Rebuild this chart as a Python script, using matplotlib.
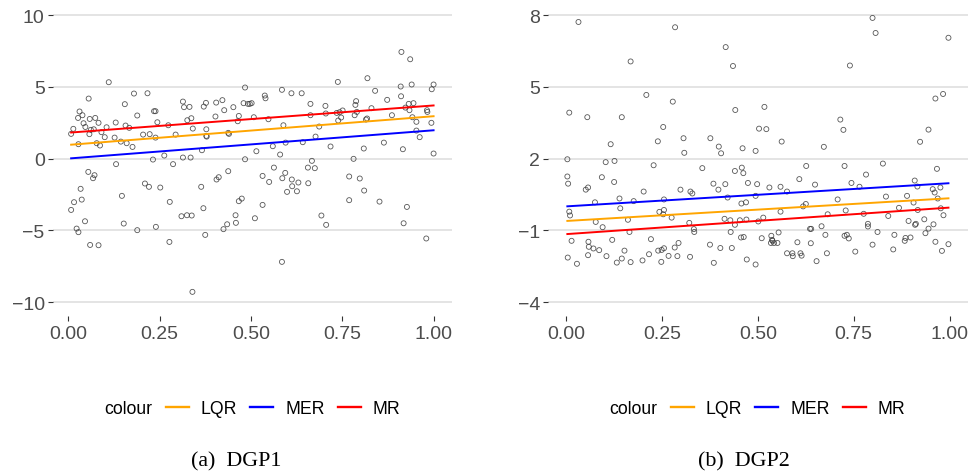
import numpy as np
import matplotlib
matplotlib.use("Agg")
import matplotlib.pyplot as plt
from matplotlib.lines import Line2D

# --- data ---
dgp1_x = [0.008, 0.014, 0.008, 0.016, 0.023, 0.028, 0.028, 0.031, 0.027, 0.039,
          0.034, 0.037, 0.042, 0.047, 0.046, 0.056, 0.055, 0.059, 0.058, 0.062,
          0.060, 0.068, 0.072, 0.074, 0.070, 0.078, 0.083, 0.087, 0.083, 0.091,
          0.100, 0.105, 0.111, 0.130, 0.127, 0.131, 0.144, 0.147, 0.152, 0.155,
          0.157, 0.160, 0.167, 0.176, 0.180, 0.189, 0.189, 0.205, 0.210, 0.217,
          0.221, 0.223, 0.232, 0.235, 0.239, 0.239, 0.240, 0.244, 0.252, 0.263,
          0.274, 0.278, 0.277, 0.287, 0.294, 0.310, 0.314, 0.314, 0.317, 0.325,
          0.326, 0.332, 0.335, 0.337, 0.338, 0.341, 0.340, 0.364, 0.366, 0.370,
          0.371, 0.375, 0.377, 0.378, 0.378, 0.379, 0.403, 0.405, 0.406, 0.412,
          0.422, 0.425, 0.427, 0.435, 0.438, 0.440, 0.438, 0.452, 0.458, 0.459,
          0.464, 0.467, 0.467, 0.475, 0.480, 0.484, 0.484, 0.492, 0.497, 0.502,
          0.508, 0.511, 0.515, 0.532, 0.532, 0.538, 0.540, 0.548, 0.550, 0.560,
          0.563, 0.580, 0.585, 0.585, 0.586, 0.589, 0.594, 0.595, 0.599, 0.611,
          0.612, 0.613, 0.626, 0.630, 0.639, 0.642, 0.656, 0.657, 0.663, 0.663,
          0.667, 0.675, 0.677, 0.687, 0.693, 0.704, 0.705, 0.706, 0.718, 0.735,
          0.739, 0.738, 0.743, 0.747, 0.751, 0.769, 0.769, 0.781, 0.784, 0.786,
          0.788, 0.790, 0.798, 0.809, 0.810, 0.815, 0.818, 0.819, 0.830, 0.840,
          0.852, 0.864, 0.873, 0.886, 0.910, 0.911, 0.912, 0.916, 0.918, 0.923,
          0.927, 0.932, 0.934, 0.936, 0.940, 0.942, 0.945, 0.953, 0.953, 0.962,
          0.980, 0.982, 0.983, 0.994, 0.995, 1.000, 1.000]
dgp1_y = [1.72, 2.07, -3.58, -3.04, -4.88, -5.13, 1.00, 3.28, 2.83, 3.02,
          -2.11, -2.86, 2.46, 2.20, -4.37, 4.18, -0.93, 2.76, 1.70, 2.00,
          -6.02, -1.37, -1.16, 2.83, 2.04, 1.07, 2.49, 0.91, -6.04, 1.84,
          1.49, 2.18, 5.32, 2.51, 1.46, -0.39, 1.18, -2.60, -4.53, 3.79,
          2.30, 1.07, 2.14, 0.81, 4.53, 3.00, -4.99, 1.67, -1.74, 4.55,
          -1.97, 1.70, -0.07, 3.30, 3.30, 1.46, -4.76, 2.53, -2.02, 0.21,
          2.32, -3.02, -5.81, -0.39, 1.67, -4.02, 3.97, 0.07, 3.58, -3.95,
          2.67, 3.60, 0.07, 2.81, -3.97, 2.09, -9.29, -1.97, 0.58, -3.46,
          3.62, -5.32, 3.88, 2.04, 1.58, 1.53, 2.93, 3.90, -1.46, -1.30,
          4.07, -4.92, 3.37, -4.58, 1.79, 1.72, -0.88, 3.58, -3.95, -4.48,
          2.60, 2.97, -2.97, -2.79, 3.86, 4.95, -0.05, 3.81, 3.81, 3.86,
          2.88, -4.16, 0.51, -1.21, -3.23, 4.39, 4.20, 2.74, -1.63, 0.86,
          -0.63, 0.28, 4.79, -7.20, -1.37, 2.32, -1.00, 1.11, -2.32, 4.55,
          -1.46, -1.93, -2.28, -1.67, 4.55, 1.14, -0.63, -1.72, 3.81, 3.02,
          -0.16, -0.67, 1.53, 2.23, -3.97, 3.67, 3.14, -4.62, 0.84, 3.18,
          2.65, 5.34, 3.23, 2.86, 3.35, -1.25, -2.90, -0.02, 3.02, 3.74,
          4.00, 3.25, -1.39, 0.70, -2.23, 2.72, 2.79, 5.60, 3.51, 4.72,
          -3.00, 1.11, 4.09, 3.02, 5.02, 4.34, 7.43, 0.65, -4.51, 3.55,
          -3.37, 3.81, 3.37, 6.92, 5.16, 2.88, 3.86, 2.56, 1.95, 1.49,
          -5.57, 3.37, 3.25, 2.49, 4.83, 5.16, 0.35]

dgp2_x = [0.003, 0.003, 0.005, 0.008, 0.008, 0.010, 0.004, 0.014, 0.028, 0.032,
          0.051, 0.055, 0.057, 0.058, 0.059, 0.057, 0.071, 0.075, 0.077, 0.086,
          0.095, 0.093, 0.103, 0.105, 0.116, 0.120, 0.125, 0.126, 0.132, 0.139,
          0.141, 0.145, 0.145, 0.152, 0.161, 0.165, 0.168, 0.168, 0.176, 0.199,
          0.202, 0.209, 0.216, 0.221, 0.228, 0.239, 0.240, 0.243, 0.248, 0.249,
          0.253, 0.253, 0.255, 0.255, 0.255, 0.267, 0.275, 0.278, 0.284, 0.283,
          0.290, 0.293, 0.298, 0.306, 0.308, 0.321, 0.323, 0.324, 0.329, 0.333,
          0.334, 0.355, 0.375, 0.376, 0.384, 0.385, 0.397, 0.398, 0.402, 0.404,
          0.413, 0.415, 0.416, 0.421, 0.428, 0.429, 0.432, 0.435, 0.440, 0.441,
          0.440, 0.453, 0.456, 0.457, 0.458, 0.460, 0.462, 0.463, 0.469, 0.470,
          0.471, 0.474, 0.494, 0.494, 0.494, 0.498, 0.501, 0.503, 0.510, 0.514,
          0.517, 0.522, 0.530, 0.534, 0.535, 0.537, 0.538, 0.542, 0.551, 0.554,
          0.559, 0.559, 0.562, 0.576, 0.576, 0.590, 0.591, 0.603, 0.608, 0.611,
          0.614, 0.618, 0.625, 0.626, 0.636, 0.639, 0.638, 0.649, 0.653, 0.666,
          0.672, 0.676, 0.680, 0.682, 0.708, 0.715, 0.723, 0.726, 0.726, 0.729,
          0.732, 0.737, 0.740, 0.744, 0.754, 0.765, 0.776, 0.782, 0.787, 0.787,
          0.799, 0.799, 0.807, 0.812, 0.826, 0.834, 0.840, 0.853, 0.856, 0.868,
          0.883, 0.885, 0.889, 0.893, 0.898, 0.906, 0.909, 0.910, 0.912, 0.916,
          0.917, 0.923, 0.934, 0.937, 0.945, 0.945, 0.956, 0.958, 0.961, 0.963,
          0.963, 0.967, 0.969, 0.976, 0.977, 0.980, 0.983, 0.984, 0.997, 0.997]
dgp2_y = [1.97, 1.25, 0.95, 3.92, -0.22, -0.38, -2.14, -1.44, -2.40, 7.71,
          0.70, 3.73, 0.79, -1.48, -1.69, -2.04, -1.76, 0.17, -0.65, -1.83,
          -0.87, 1.22, 1.85, -2.08, 2.60, -1.40, 1.02, 1.90, -2.35, 0.33,
          -0.08, 3.73, -2.18, -1.85, -0.56, -1.07, 6.06, -2.33, 0.22, -2.26,
          0.62, 4.66, -2.00, -1.37, 1.72, 2.72, -1.85, -0.23, -2.32, -1.82,
          3.32, -0.33, 0.29, -0.15, -1.75, -2.07, -0.47, 4.38, 7.49, -1.72,
          -2.08, -1.53, 0.70, 2.85, 2.24, -0.69, -2.11, 0.62, 0.54, -0.95,
          -1.07, 1.60, -1.60, 2.85, 0.95, -2.36, 0.70, 2.50, -1.74, 2.22,
          -0.52, 0.93, 6.66, 0.37, -0.58, -1.07, -1.74, 5.87, 1.48, 4.03,
          -0.77, -0.58, -1.30, 0.12, 1.62, 2.43, 1.39, -1.28, 0.17, -0.55,
          -2.22, 0.98, 2.32, 0.44, -2.43, 0.93, -0.63, 3.25, -1.33, -0.47,
          4.16, 3.23, 0.79, -1.53, -1.23, -1.40, -1.44, -1.53, -1.53, -1.09,
          -0.22, 0.82, 2.71, 0.62, -1.96, -1.96, -2.08, -1.50, 1.14, -1.96,
          -2.06, 0.00, 0.10, 1.69, -0.94, -0.94, -1.54, 0.91, -2.29, -0.83,
          2.49, -1.19, -1.96, -0.33, 0.29, 3.63, 3.20, 1.69, -1.23, -0.17,
          -1.19, -1.34, 5.89, 0.98, -1.89, 0.82, -0.31, 1.33, -0.73, -0.84,
          7.88, -1.60, 7.25, -1.07, 1.79, 0.41, -0.40, -1.80, -1.19, -0.06,
          -1.44, -1.32, 0.44, -0.61, -1.30, 0.16, 1.08, -0.77, -0.73, 0.83,
          -0.15, 2.70, -0.54, -1.12, 3.21, -0.93, 0.72, -0.75, 0.58, -1.48,
          4.51, 1.57, 0.33, 0.79, -0.08, -1.86, 4.70, -0.37, 7.05, -1.58]

# fitted lines: [intercept, slope]
methods = ["LQR", "MER", "MR"]
method_colours = ["orange", "blue", "red"]
dgp1_fits = {"LQR": [0.95, 2.00], "MER": [0.00, 1.97], "MR": [1.80, 1.90]}
dgp2_fits = {"LQR": [-0.61, 0.95], "MER": [0.00, 0.97], "MR": [-1.16, 1.11]}

dgp1_yticks = [-10, -5, 0, 5, 10]
dgp2_yticks = [-4, -1, 2, 5, 8]
xticks = [0.0, 0.25, 0.50, 0.75, 1.00]
xticklabels = ["0.00", "0.25", "0.50", "0.75", "1.00"]
captions = ["(a)  DGP1", "(b)  DGP2"]

plt.rcParams["font.family"] = ["Liberation Sans", "DejaVu Sans"]

fig = plt.figure(figsize=(9.73, 4.77), dpi=100)
W, H = 973.0, 477.0


def draw_panel(rect, xs, ys, fits, yticks, ylim):
    ax = fig.add_axes(rect)
    xs = np.array(xs)
    ys = np.array(ys)
    for tick in yticks:
        ax.axhline(tick, color="#DCDCDC", lw=1.1, zorder=0)
    ax.scatter(xs, ys, s=13, facecolors="none", edgecolors="#3a3a3a",
               linewidths=0.6, alpha=0.85, zorder=2)
    xl = np.array([xs.min(), xs.max()])
    for m, c in zip(methods, method_colours):
        a, b = fits[m]
        ax.plot(xl, a + b * xl, color=c, lw=1.4, zorder=3)
    pad = 0.05 * (xs.max() - xs.min())
    ax.set_xlim(xs.min() - pad, xs.max() + pad)
    ax.set_ylim(*ylim)
    ax.set_xticks(xticks)
    ax.set_xticklabels(xticklabels)
    ax.set_yticks(yticks)
    ax.set_yticklabels([str(t).replace("-", "\u2212") for t in yticks])
    for s in ax.spines.values():
        s.set_visible(False)
    ax.tick_params(axis="both", length=3.5, width=0.8, color="#333333",
                   labelcolor="#4D4D4D", labelsize=14, pad=2.5)
    ax.set_facecolor("none")
    return ax


draw_panel([53 / W, 1 - 317.4 / H, (451.7 - 53) / W, 315.7 / H],
           dgp1_x, dgp1_y, dgp1_fits, dgp1_yticks, (-11, 11))
draw_panel([548.3 / W, 1 - 317.4 / H, (967.5 - 548.3) / W, 315.7 / H],
           dgp2_x, dgp2_y, dgp2_fits, dgp2_yticks, (-4.6, 8.6))

handles = [Line2D([], [], color=c, lw=1.7) for c in method_colours]
for title_x, leg_x, cap_x, cap in [(104, 166, 236, captions[0]),
                                   (609, 671, 743.5, captions[1])]:
    fig.text(title_x / W, 1 - 409.7 / H, "colour", fontsize=12.7,
             ha="left", va="center", color="black")
    fig.legend(handles, methods, loc="center left", ncol=3, frameon=False,
               bbox_to_anchor=(leg_x / W, 1 - 409.7 / H), fontsize=12.7,
               handlelength=1.3, handletextpad=0.68, columnspacing=0.74,
               borderpad=0, borderaxespad=0)
    fig.text(cap_x / W, 1 - 461.7 / H, cap, fontsize=15.8,
             family=["Liberation Serif", "DejaVu Serif"],
             ha="center", va="center", color="black")

fig.savefig("out.png", dpi=100)
